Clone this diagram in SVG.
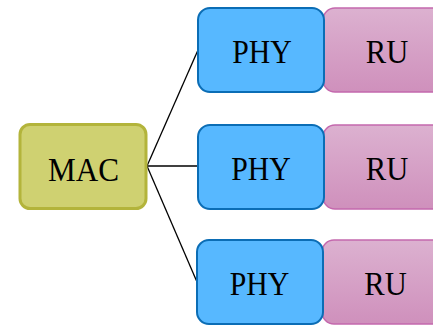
<svg xmlns="http://www.w3.org/2000/svg" width="433" height="327" viewBox="0 0 433 327">
  <style>
    .mac { fill: #cfd171; stroke: #b3b43b; stroke-width: 3; }
    .phy { fill: #57b8ff; stroke: #0b6db5; stroke-width: 2; }
    .ru { fill: url(#ruFill); stroke: #c468ad; stroke-width: 1.5; }
    .lbl { font-family: "Liberation Serif", "Times New Roman", serif; font-size: 33px; fill: #000; text-anchor: middle; }
    .edge { stroke: #000; stroke-width: 1.3; fill: none; }
  </style>
  <defs>
    <linearGradient id="ruFill" x1="0" y1="0" x2="0" y2="1">
      <stop offset="0" stop-color="#dcb1d0"/>
      <stop offset="1" stop-color="#cf90bc"/>
    </linearGradient>
  </defs>
  <rect width="433" height="327" fill="#ffffff"/>

  <g id="connectors">
    <line class="edge" x1="147" y1="166" x2="198" y2="50"/>
    <line class="edge" x1="147" y1="166" x2="198" y2="166"/>
    <line class="edge" x1="147" y1="166" x2="197" y2="282"/>
  </g>

  <g id="mac">
    <rect class="mac" x="20" y="124.5" width="126" height="84" rx="10"/>
    <text class="lbl" x="83.5" y="180.5" textLength="71" lengthAdjust="spacingAndGlyphs">MAC</text>
  </g>

  <g id="ru1">
    <rect class="ru" x="323" y="8" width="130" height="84" rx="12"/>
    <text class="lbl" x="387" y="63.3" textLength="42.5" lengthAdjust="spacingAndGlyphs">RU</text>
  </g>
  <g id="phy1">
    <rect class="phy" x="198" y="8" width="126" height="84" rx="12"/>
    <text class="lbl" x="262" y="63.3" textLength="59.5" lengthAdjust="spacingAndGlyphs">PHY</text>
  </g>

  <g id="ru2">
    <rect class="ru" x="323" y="125" width="130" height="84" rx="12"/>
    <text class="lbl" x="387" y="180.3" textLength="42.5" lengthAdjust="spacingAndGlyphs">RU</text>
  </g>
  <g id="phy2">
    <rect class="phy" x="198" y="125" width="126" height="84" rx="12"/>
    <text class="lbl" x="261" y="180.3" textLength="59.5" lengthAdjust="spacingAndGlyphs">PHY</text>
  </g>

  <g id="ru3">
    <rect class="ru" x="322" y="240" width="130" height="84" rx="12"/>
    <text class="lbl" x="385.5" y="295.3" textLength="42.5" lengthAdjust="spacingAndGlyphs">RU</text>
  </g>
  <g id="phy3">
    <rect class="phy" x="197" y="240" width="126" height="84" rx="12"/>
    <text class="lbl" x="259.5" y="295.3" textLength="59.5" lengthAdjust="spacingAndGlyphs">PHY</text>
  </g>
</svg>
